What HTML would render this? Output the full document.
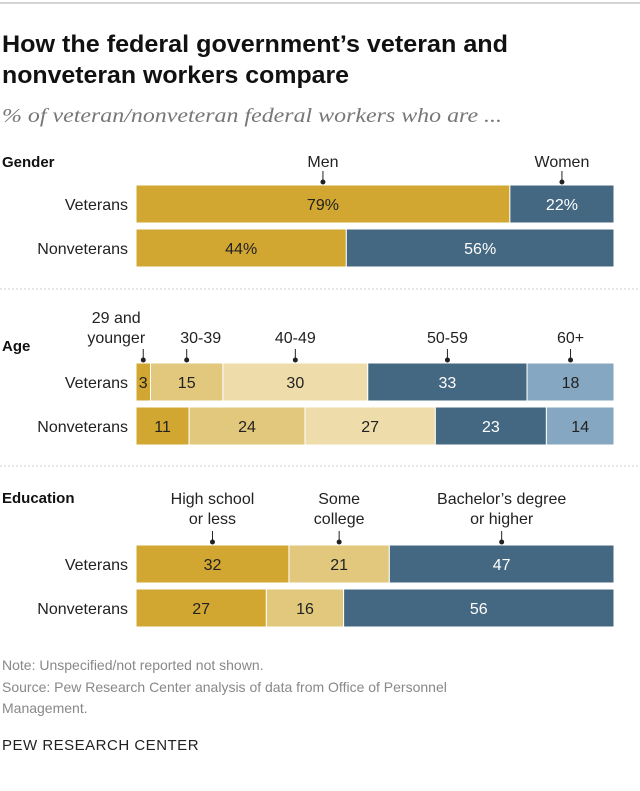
<!DOCTYPE html>
<html><head><meta charset="utf-8"><style>
body{margin:0;background:#fff;}
svg text{font-family:"Liberation Sans",sans-serif;}
</style></head><body>
<svg id="c" width="640" height="786" xmlns="http://www.w3.org/2000/svg">
<line x1="0" y1="3" x2="640" y2="3" stroke="#aaa" stroke-width="1"/>
<g font-weight="bold" font-size="24" fill="#111">
<text x="2" y="52" textLength="506" lengthAdjust="spacingAndGlyphs">How the federal government’s veteran and</text>
<text x="2" y="83" textLength="347" lengthAdjust="spacingAndGlyphs">nonveteran workers compare</text>
</g>
<text x="2" y="122" font-size="20" font-style="italic" fill="#777" textLength="500" lengthAdjust="spacingAndGlyphs" style="font-family:'Liberation Serif',serif">% of veteran/nonveteran federal workers who are ...</text>
<line x1="0" y1="289" x2="640" y2="289" stroke="#ccc" stroke-dasharray="2,2"/>
<line x1="0" y1="466" x2="640" y2="466" stroke="#ccc" stroke-dasharray="2,2"/>
<g id="bars"></g>
<g font-size="14" fill="#888">
<text x="2" y="670">Note: Unspecified/not reported not shown.</text>
<text x="2" y="692">Source: Pew Research Center analysis of data from Office of Personnel</text>
<text x="2" y="713">Management.</text>
</g>
<text x="2" y="750" font-size="15" fill="#222" letter-spacing="0.5">PEW RESEARCH CENTER</text>
</svg>
<script>
const rows = ["Veterans","Nonveterans"];
const genderCats = ["Men","Women"];
const genderVet = [79,22];
const genderNon = [44,56];
const ageCats = [["29 and","younger"],["30-39"],["40-49"],["50-59"],["60+"]];
const ageVet = [3,15,30,33,18];
const ageNon = [11,24,27,23,14];
const eduCats = [["High school","or less"],["Some","college"],["Bachelor’s degree","or higher"]];
const eduVet = [32,21,47];
const eduNon = [27,16,56];
const NS="http://www.w3.org/2000/svg";
const g=document.getElementById('bars');
const X0=136,X1=614;
function mk(t,a,p){const e=document.createElementNS(NS,t);for(const k in a)e.setAttribute(k,a[k]);(p||g).appendChild(e);return e;}
function txt(x,y,s,a){const e=mk('text',Object.assign({x:x,y:y,'font-size':15},a||{}));e.textContent=s;return e;}
function section(name,title,titleY,cats,vals,colors,textCols,y0,pct,labelY,shift){
  const h=txt(2,titleY,title,{'font-weight':'bold','fill':'#111'});
  
  
  vals.forEach((v,r)=>{
    const y=y0+r*44;
    const total=v.reduce((a,b)=>a+b,0);
    const sc=x=>X0+(X1-X0)*x/total;
    const lab=txt(128,y+25,rows[r],{'text-anchor':'end','fill':'#222','font-size':16});
    
    
    let acc=0;
    v.forEach((val,i)=>{
      const xa=sc(acc),xb=sc(acc+val);
      const rc=mk('rect',{x:xa,y:y,width:xb-xa,height:38,fill:colors[i],stroke:'#fff','stroke-width':1});
      
      
      const t=txt((xa+xb)/2,y+25,val+(pct?'%':''),{'text-anchor':'middle',fill:textCols[i],'font-size':16});
      
      
      if(r===0){
        const cx=(xa+xb)/2;
        mk('line',{x1:cx,y1:y-14,x2:cx,y2:y-3,stroke:'#222','stroke-width':1});
        mk('circle',{cx:cx,cy:y-3,r:2.5,fill:'#222'});
        const c=Array.isArray(cats[i])?cats[i]:[cats[i]];
        const off=shift?shift[i]:0;
        c.forEach((s,k)=>{const ct=txt(cx+off,labelY-(c.length-1-k)*20,s,{'text-anchor':'middle',fill:'#222','font-size':16});
          
          });
      }
      acc+=val;
    });
  });
}
section('gender','Gender',167,genderCats,[genderVet,genderNon],['#d1a731','#446882'],['#222','#fff'],185,true,167);
section('age','Age',351,ageCats,[ageVet,ageNon],['#d1a731','#e2c87c','#eedcaa','#446882','#86a7c1'],['#222','#222','#222','#fff','#222'],363,false,343,[-27,14,0,0,0]);
section('education','Education',503,eduCats,[eduVet,eduNon],['#d1a731','#e2c87c','#446882'],['#222','#222','#fff'],545,false,524);
</script>
</body></html>
